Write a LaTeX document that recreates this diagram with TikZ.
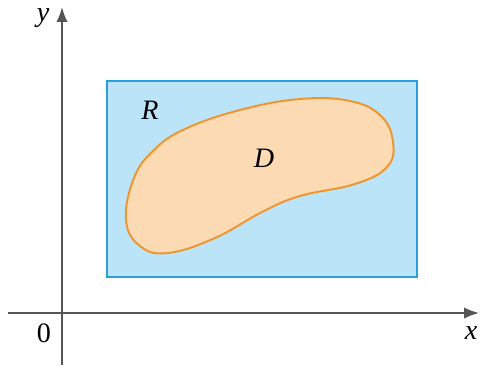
\documentclass[tikz,border=0pt]{standalone}
\usepackage{fontspec}
\setmainfont{Liberation Serif}
\usepackage{xcolor}
\usetikzlibrary{arrows.meta}
\definecolor{regionblue}{RGB}{187,228,248}
\definecolor{edgeblue}{RGB}{40,160,220}
\definecolor{regionpeach}{RGB}{252,218,180}
\definecolor{edgeorange}{RGB}{238,150,45}
\definecolor{axisgray}{RGB}{85,85,85}

\begin{document}
\begin{tikzpicture}[x=0.02cm, y=0.02cm, >={Latex[length=8.5pt, width=6.5pt]},
    axis/.style={line width=1.1pt, axisgray},
    lbl/.style={font=\fontsize{16}{18}\selectfont\itshape, inner sep=0pt}]
    \useasboundingbox (0,0) rectangle (480,370);

    % axes
    \draw[axis, ->] (8,57) -- (479,57);
    \draw[axis, ->] (62,5) -- (62,363);
    \node[lbl] (xlab) at (471,37) {x};
    \node[lbl] (ylab) at (43,352) {y};
    \node[lbl, font=\fontsize{16}{18}\selectfont] (orig) at (44,37) {0};

    % rectangle R
    \filldraw[fill=regionblue, draw=edgeblue, line width=0.8pt] (107,93) rectangle (417,289);
    \node[lbl] (rlab) at (150,260) {R};

    % region D
    \filldraw[fill=regionpeach, draw=edgeorange, line width=1.1pt]
        plot[smooth cycle, tension=0.7] coordinates {
        (126,150) (140,124) (168,117) (215,132) (262,158) (300,174)
        (355,186) (387,203) (393,228) (381,254) (350,269) (300,271)
        (240,260) (185,241) (154,220) (134,192)};
    \node[lbl] (dlab) at (264,212) {D};
\end{tikzpicture}
\end{document}
